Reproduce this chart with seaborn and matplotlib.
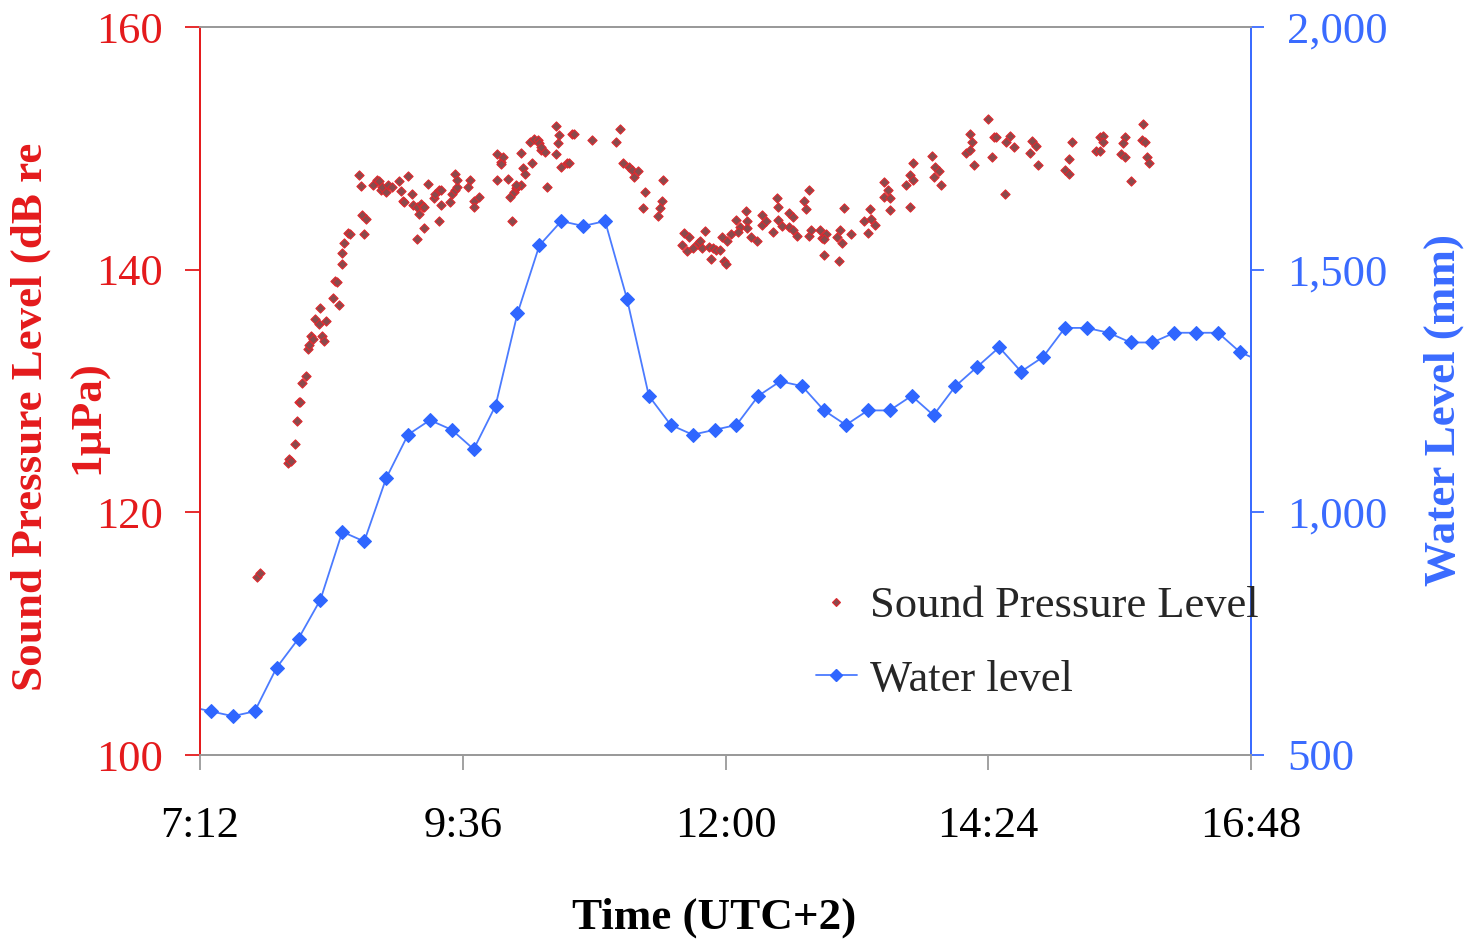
import pandas as pd
import matplotlib
matplotlib.use("Agg")
import matplotlib.pyplot as plt
from matplotlib.ticker import FuncFormatter
from matplotlib.lines import Line2D
import seaborn as sns

## DATA
# Sound pressure level readings (time of day, dB re 1uPa)
spl_time = ["7:43", "7:45", "8:00", "8:01", "8:02", "8:04", "8:05", "8:06", "8:07", "8:08",
            "8:10", "8:11", "8:12", "8:13", "8:14", "8:15", "8:17", "8:18", "8:19", "8:20",
            "8:21", "8:25", "8:28", "8:26", "8:27", "8:30", "8:30", "8:31", "8:33", "8:34",
            "8:41", "8:43", "8:42", "8:39", "8:40", "8:47", "8:49", "8:50", "8:51", "8:52",
            "8:54", "8:55", "8:57", "9:01", "9:02", "9:03", "9:04", "9:06", "9:08", "9:09",
            "9:11", "9:12", "9:13", "9:14", "9:15", "9:15", "9:11", "9:17", "9:20", "9:21",
            "9:23", "9:24", "9:23", "9:24", "9:29", "9:30", "9:32", "9:33", "9:32", "9:33",
            "9:40", "9:39", "9:42", "9:42", "9:45", "9:55", "9:55", "9:57", "9:58", "9:57",
            "10:01", "10:03", "10:02", "10:04", "10:05", "10:06", "10:08", "10:05", "10:08", "10:09",
            "10:10", "10:13", "10:15", "10:17", "10:18", "10:19", "10:21", "10:19", "10:14", "10:22",
            "10:27", "10:27", "10:29", "10:28", "10:30", "10:33", "10:34", "10:36", "10:37", "10:47",
            "11:02", "11:00", "11:04", "11:07", "11:09", "11:10", "11:12", "11:26", "11:16", "11:15",
            "11:25", "11:24", "11:23", "11:37", "11:40", "11:36", "11:39", "11:42", "11:45", "11:46",
            "11:49", "11:47", "11:51", "11:53", "11:52", "11:55", "11:57", "11:59", "12:00", "11:58",
            "12:01", "12:03", "12:06", "12:08", "12:07", "12:11", "12:12", "12:12", "12:14", "12:17",
            "12:20", "12:20", "12:22", "12:26", "12:28", "12:29", "12:29", "12:31", "12:35", "12:37",
            "12:35", "12:37", "12:39", "12:43", "12:44", "12:46", "12:46", "12:47", "12:52", "12:53",
            "12:55", "12:54", "12:54", "13:01", "13:03", "13:04", "13:02", "13:05", "13:09", "13:16",
            "13:19", "13:20", "13:22", "13:18", "13:27", "13:29", "13:27", "13:30", "13:30", "13:39",
            "13:41", "13:43", "13:43", "13:41", "13:53", "13:55", "13:57", "13:54", "13:58", "14:12",
            "14:14", "14:15", "14:14", "14:16", "14:24", "14:27", "14:28", "14:26", "14:34", "14:36",
            "14:38", "14:33", "14:48", "14:50", "14:47", "14:51", "15:10", "15:08", "15:06", "15:08",
            "15:25", "15:27", "15:27", "15:23", "15:25", "15:39", "15:38", "15:37", "15:39", "15:42",
            "15:49", "15:48", "15:50", "15:51", "15:52"]
spl_db = [114.7, 115.0, 124.1, 124.4, 124.2, 125.6, 127.5, 129.1, 129.1, 130.7,
          131.2, 133.5, 133.8, 134.5, 134.3, 135.9, 135.5, 136.8, 134.5, 134.1,
          135.8, 137.7, 137.1, 139.1, 139.0, 140.5, 141.4, 142.2, 143.0, 142.9,
          144.5, 144.2, 142.9, 147.8, 146.9, 147.0, 147.4, 147.3, 146.6, 146.8,
          146.4, 147.0, 146.8, 147.3, 146.5, 145.7, 145.6, 147.7, 146.2, 145.3,
          145.2, 144.6, 145.4, 145.2, 145.2, 143.4, 142.5, 147.1, 145.9, 146.2,
          146.6, 146.6, 144.0, 145.3, 145.6, 146.2, 146.6, 146.8, 147.9, 147.4,
          147.4, 146.8, 145.7, 145.2, 146.0, 147.4, 149.5, 148.9, 149.3, 148.7,
          147.5, 144.0, 146.0, 146.4, 146.7, 146.8, 147.0, 147.0, 149.6, 148.4,
          147.9, 150.5, 150.8, 150.7, 150.4, 149.9, 149.7, 150.1, 148.8, 146.8,
          149.5, 151.8, 151.1, 150.4, 148.5, 148.8, 148.8, 151.2, 151.2, 150.7,
          151.6, 150.5, 148.8, 148.5, 148.2, 147.6, 148.1, 147.4, 146.4, 145.1,
          145.7, 145.1, 144.4, 143.0, 142.7, 142.0, 141.5, 141.8, 142.2, 142.4,
          143.2, 141.8, 141.9, 141.8, 140.9, 141.6, 141.6, 140.7, 140.5, 142.7,
          142.4, 142.9, 144.1, 143.5, 143.1, 144.8, 144.0, 143.4, 142.7, 142.4,
          144.5, 143.7, 144.0, 143.1, 145.9, 145.2, 144.1, 143.6, 144.7, 144.3,
          143.5, 143.3, 142.8, 145.7, 145.0, 146.6, 142.8, 143.3, 143.3, 142.6,
          142.9, 142.5, 141.2, 142.7, 143.3, 142.2, 140.7, 145.1, 142.9, 144.0,
          145.0, 144.2, 143.7, 143.0, 147.2, 146.6, 146.0, 145.9, 144.9, 147.0,
          147.8, 147.4, 148.8, 145.2, 149.4, 148.5, 148.1, 147.6, 147.0, 149.6,
          151.2, 150.5, 149.9, 148.6, 152.4, 150.9, 150.9, 149.3, 150.5, 151.0,
          150.1, 146.2, 150.6, 150.2, 149.6, 148.6, 150.5, 149.1, 148.2, 147.9,
          150.9, 151.0, 150.5, 149.8, 149.8, 150.9, 150.4, 149.5, 149.3, 147.3,
          152.0, 150.7, 150.5, 149.3, 148.8]

# Water level readings every 12 minutes (first and last lie just outside the axis)
water_time = pd.date_range("07:06", "16:54", freq="12min").strftime("%H:%M").tolist()
water_mm = [600, 590, 580, 590, 680, 740, 820, 960, 940, 1070,
            1160, 1190, 1170, 1130, 1220, 1410, 1550, 1600, 1590, 1600,
            1440, 1240, 1180, 1160, 1170, 1180, 1240, 1270, 1260, 1210,
            1180, 1210, 1210, 1240, 1200, 1260, 1300, 1340, 1290, 1320,
            1380, 1380, 1370, 1350, 1350, 1370, 1370, 1370, 1330, 1310]

x_ticks = ["7:12", "9:36", "12:00", "14:24", "16:48"]


def to_hours(times):
    return pd.to_timedelta([t + ":00" for t in times]).total_seconds() / 3600


def hour_label(h, pos=None):
    minutes = int(round(h * 60))
    return f"{minutes // 60}:{minutes % 60:02d}"


spl_df = pd.DataFrame({"hours": to_hours(spl_time), "spl": spl_db})
water_df = pd.DataFrame({"hours": to_hours(water_time), "level": water_mm})

# Colours
red = "#E41A1C"
blue = "#3A6BFF"
grey = "#9A9A9A"
fs = 32

sns.set_style("white")
plt.rcParams["font.family"] = ["Liberation Serif", "DejaVu Serif"]

fig = plt.figure(figsize=(14.71, 9.40), dpi=100)
ax = fig.add_axes([200 / 1471, 1 - 755 / 940, 1051 / 1471, 728 / 940])
ax2 = ax.twinx()

# Sound pressure level scatter
sns.scatterplot(data=spl_df, x="hours", y="spl", ax=ax, marker="D", s=22,
                color="#8A4A4C", edgecolor="#E0282E", linewidth=0.8, zorder=3)

# Water level line
sns.lineplot(data=water_df, x="hours", y="level", ax=ax2, marker="D", markersize=7,
             color="#4B7BFF", linewidth=1.3, markerfacecolor="#2F66FF",
             markeredgecolor="#2F66FF", sort=False)

ax.set_xlim(to_hours(x_ticks)[0], to_hours(x_ticks)[-1])
ax.set_ylim(100, 160)
ax2.set_ylim(500, 2000)
ax.set_xticks(to_hours(x_ticks))
ax.xaxis.set_major_formatter(FuncFormatter(hour_label))
ax.set_yticks([100, 120, 140, 160])
ax2.set_yticks([500, 1000, 1500, 2000])
ax2.yaxis.set_major_formatter(FuncFormatter(lambda v, p: f"{v:,.0f}"))

# Spines
for a in (ax, ax2):
    a.spines["top"].set_color(grey)
    a.spines["bottom"].set_color(grey)
    a.spines["left"].set_color(red)
    a.spines["right"].set_color(blue)
    for s in a.spines.values():
        s.set_linewidth(1.3)
    a.grid(False)

ax.tick_params(axis="y", colors=red, labelsize=fs, length=11, width=1.3,
               direction="out", pad=16, left=True)
ax.tick_params(axis="x", colors=grey, labelcolor="black", labelsize=fs, length=11,
               width=1.3, direction="out", pad=26, bottom=True)
ax2.tick_params(axis="y", colors=blue, labelsize=fs, length=9, width=1.3,
                direction="out", pad=17, right=True)

# Axis labels (left one wraps onto a second line, drawn as its own text)
ax.set_ylabel("Sound Pressure Level (dB re", fontsize=32.5, fontweight="bold",
              color=red, va="center")
ax.yaxis.set_label_coords(-0.161, 0.464)
ax.text(-0.1065, 0.464, "1µPa)", transform=ax.transAxes, rotation=90,
        ha="center", va="center", fontsize=32.5, fontweight="bold", color=red)
ax2.set_ylabel("Water Level (mm)", fontsize=32.5, fontweight="bold", color=blue,
               va="center", rotation=90)
ax2.yaxis.set_label_coords(1.183, 0.474)
ax.set_xlabel("Time (UTC+2)", fontsize=32.5, fontweight="bold", color="black", va="center")
ax.xaxis.set_label_coords(0.489, -0.224)

# Legend without frame
handles = [
    Line2D([], [], linestyle="none", marker="D", markersize=4.5,
           markerfacecolor="#8A4A4C", markeredgecolor="#E0282E", markeredgewidth=0.8),
    Line2D([], [], color="#4B7BFF", linewidth=1.3, marker="D", markersize=6,
           markerfacecolor="#2F66FF", markeredgecolor="#2F66FF"),
]
fig.legend(handles, ["Sound Pressure Level", "Water level"], loc="center left",
           bbox_to_anchor=(816 / 1471, 1 - 643 / 940), frameon=False, fontsize=fs,
           handlelength=0.92, handletextpad=0.3, labelspacing=0.75, borderpad=0,
           borderaxespad=0)

fig.savefig("out.png", dpi=100)
plt.close()
